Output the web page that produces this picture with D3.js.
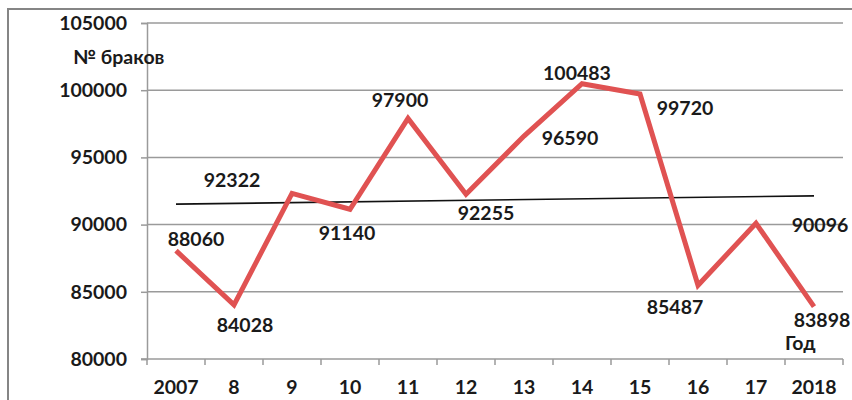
<!DOCTYPE html>
<html>
<head>
<meta charset="utf-8">
<script src="https://cdn.jsdelivr.net/npm/d3@7"></script>
<style>
  html, body { margin: 0; padding: 0; background: #fff; }
  svg { display: block; }
  text { font-family: Lato, "Open Sans", sans-serif; font-weight: 700; fill: #1a1a1a; }
</style>
</head>
<body>
<svg id="chart" width="852" height="400"></svg>
<script>
// Marriages per year
const years = ["2007", "8", "9", "10", "11", "12", "13", "14", "15", "16", "17", "2018"];
const marriages = [88060, 84028, 92322, 91140, 97900, 92255, 96590, 100483, 99720, 85487, 90096, 83898];
const yTicks = [80000, 85000, 90000, 95000, 100000, 105000];

// Label placement relative to each point (dx, dy in px)
const labelShift = [
  [20, -11], [11, 20], [-60, -13], [-3, 24], [-8, -18], [20, 19],
  [46, 2], [-5, -11], [45, 14], [-23, 22], [64, 2], [8, 14]
];

const FS = 19.5;
const svg = d3.select("#chart");
const plot = { left: 147, right: 843, top: 23, bottom: 359 };

// outer frame
svg.append("rect")
  .attr("x", 8).attr("y", 9).attr("width", 860).attr("height", 420)
  .attr("fill", "none").attr("stroke", "#858585").attr("stroke-width", 2);

const x = d3.scaleBand().domain(years).range([plot.left, plot.right]);
const y = d3.scaleLinear().domain([80000, 105000]).range([plot.bottom, plot.top]);
const cx = d => x(d) + x.bandwidth() / 2;

// horizontal gridlines
svg.append("g").selectAll("line").data(yTicks.slice(1)).join("line")
  .attr("x1", plot.left).attr("x2", plot.right)
  .attr("y1", d => y(d)).attr("y2", d => y(d))
  .attr("stroke", "#9a9a9a").attr("stroke-width", 1.5);

// y axis
const yAxis = svg.append("g").attr("transform", `translate(${plot.left},0)`)
  .call(d3.axisLeft(y).tickValues(yTicks).tickSize(6).tickPadding(14).tickFormat(d3.format("d")));
yAxis.select(".domain").attr("stroke", "#9a9a9a").attr("stroke-width", 1.5);
yAxis.selectAll(".tick line").attr("stroke", "#9a9a9a").attr("stroke-width", 1.5);
yAxis.selectAll(".tick text").attr("font-size", FS).attr("fill", "#1a1a1a")
  .attr("font-family", "Lato, 'Open Sans', sans-serif").attr("font-weight", 700);

// x axis with ticks at category boundaries
const xg = svg.append("g").attr("transform", `translate(0,${plot.bottom})`);
xg.append("line").attr("x1", plot.left - 6).attr("x2", plot.right)
  .attr("stroke", "#9a9a9a").attr("stroke-width", 1.5);
const bounds = years.map(d => x(d)).concat([plot.right]);
xg.selectAll("line.tk").data(bounds).join("line").attr("class", "tk")
  .attr("x1", d => d).attr("x2", d => d).attr("y1", 0).attr("y2", 6)
  .attr("stroke", "#9a9a9a").attr("stroke-width", 1.5);
xg.selectAll("text").data(years).join("text")
  .attr("x", d => cx(d)).attr("y", 35)
  .attr("text-anchor", "middle").attr("font-size", FS)
  .text(d => d);

// linear trend (least squares)
const n = marriages.length;
const mx = d3.mean(d3.range(n));
const my = d3.mean(marriages);
const slope = d3.sum(marriages, (v, i) => (i - mx) * (v - my)) / d3.sum(d3.range(n), i => (i - mx) ** 2);
const fit = i => my + slope * (i - mx);
svg.append("line")
  .attr("x1", cx(years[0])).attr("y1", y(fit(0)))
  .attr("x2", cx(years[n - 1])).attr("y2", y(fit(n - 1)))
  .attr("stroke", "#111").attr("stroke-width", 1.6);

// series line
const line = d3.line().x((v, i) => cx(years[i])).y(v => y(v));
svg.append("path").datum(marriages)
  .attr("d", line).attr("fill", "none")
  .attr("stroke", "#e05252").attr("stroke-width", 5)
  .attr("stroke-linejoin", "miter").attr("stroke-miterlimit", 3);

// value labels
svg.append("g").selectAll("text").data(marriages).join("text")
  .attr("x", (v, i) => cx(years[i]) + labelShift[i][0])
  .attr("y", (v, i) => y(v) + labelShift[i][1])
  .attr("dy", "0.35em").attr("text-anchor", "middle").attr("font-size", FS)
  .text(v => v);

// axis titles
svg.append("text").attr("x", 73).attr("y", 57).attr("dy", "0.35em")
  .attr("font-size", FS).text("№ браков");
svg.append("text").attr("x", 785).attr("y", 343).attr("dy", "0.35em")
  .attr("font-size", FS).text("Год");
</script>
</body>
</html>
